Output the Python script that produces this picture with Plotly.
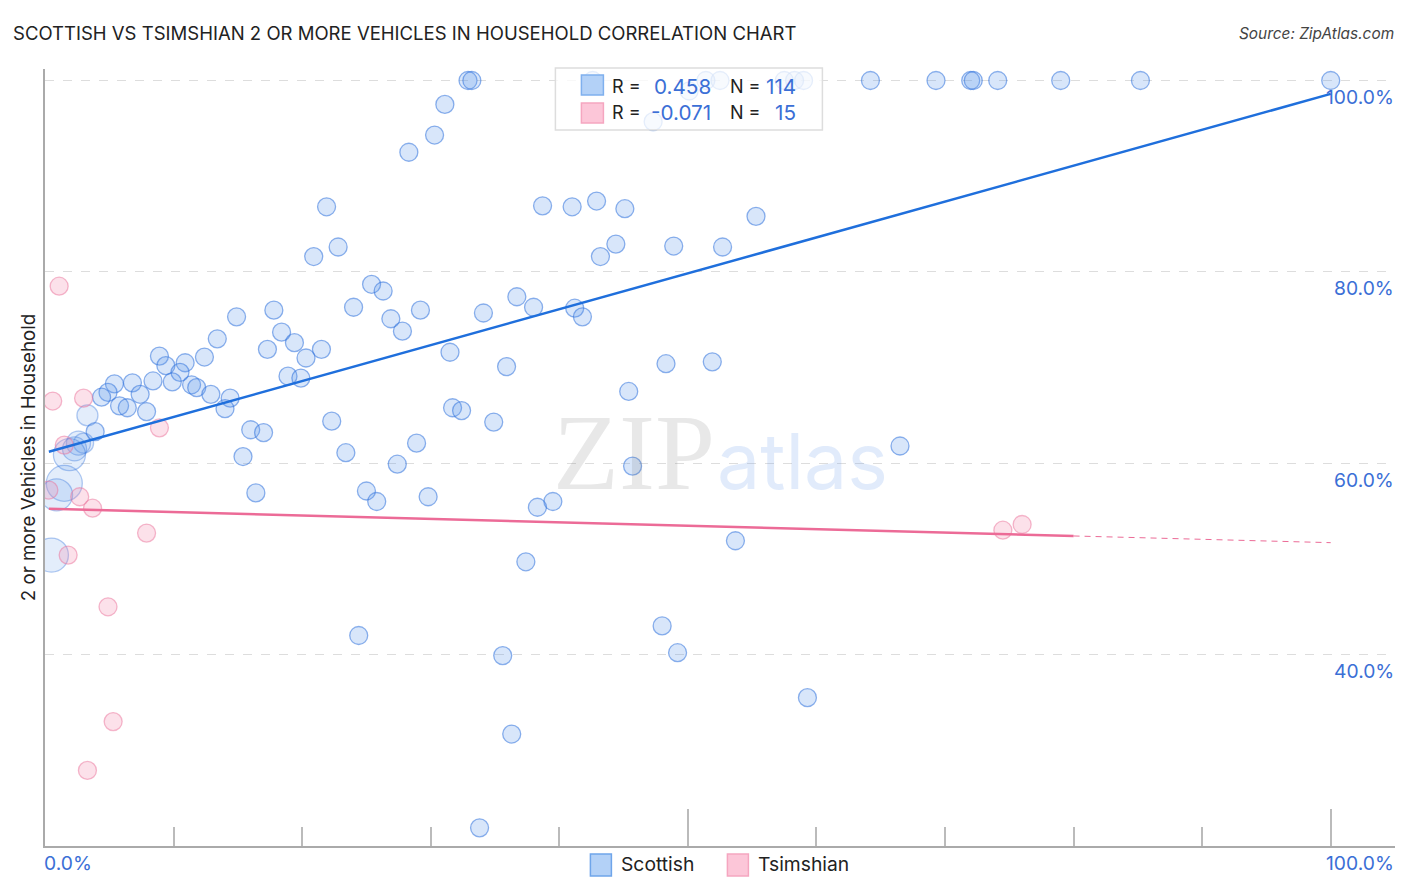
import plotly.graph_objects as go

scottish_x = [32.9,33.2,42.6,51.4,52.5,57.5,58.3,59.0,64.2,69.3,72.0,72.2,74.1,79.0,85.2,100,
50.1,47.3,31.1,30.3,28.3,21.9,38.7,41.0,42.9,45.1,55.3,44.4,48.9,52.7,43.2,22.8,20.9,25.4,26.3,36.7,
24.0,38.0,41.2,41.8,34.1,29.2,26.9,27.8,17.8,14.9,18.4,13.4,19.4,21.5,17.3,20.3,31.5,8.9,12.4,10.9,
9.4,10.5,35.9,48.3,51.9,18.9,19.9,9.9,8.4,6.8,5.4,11.4,11.8,4.9,4.4,7.4,12.9,14.4,45.4,5.8,6.4,7.9,
14.0,31.7,32.4,22.3,34.9,3.9,16.0,17.0,28.9,23.4,15.4,66.5,27.4,45.7,16.4,25.0,25.8,29.8,39.5,38.3,
53.7,37.4,24.4,48.0,35.6,49.2,59.3,36.3,33.8]
scottish_y = [100,100,100,100,100,100,100,100,100,100,100,100,100,100,100,100,
98.9,95.7,97.5,94.3,92.5,86.8,86.9,86.8,87.4,86.6,85.8,82.9,82.7,82.6,81.6,82.6,81.6,78.7,78.0,77.4,
76.3,76.3,76.2,75.3,75.7,76.0,75.1,73.8,76.0,75.3,73.7,73.0,72.6,71.9,71.9,71.0,71.6,71.2,71.1,70.5,
70.2,69.5,70.1,70.4,70.6,69.1,68.9,68.5,68.6,68.4,68.3,68.2,67.9,67.4,66.9,67.2,67.2,66.8,67.5,66.0,65.8,65.4,
65.7,65.8,65.5,64.4,64.3,63.3,63.5,63.2,62.1,61.1,60.7,61.8,59.9,59.7,56.9,57.1,56.0,56.5,56.0,55.4,
51.9,49.7,42.0,43.0,39.9,40.2,35.5,31.7,21.9]

scottish_big_x = [3.3,3.0,2.6,2.3,1.9,1.5,0.9,0.5]
scottish_big_y = [65.0,62.1,62.1,61.5,60.9,57.9,56.7,50.4]
scottish_big_weight = [21,20,24,24,32,36,32,34]

tsimshian_x = [1.5,0.3,2.7,3.7,7.9,1.8,0.6,3.0,8.9,1.1,4.9,5.3,3.3,74.5,76.0]
tsimshian_y = [61.9,57.2,56.5,55.3,52.7,50.4,66.5,66.8,63.7,78.5,45.0,33.0,27.9,53.0,53.6]

blue_fit_x = [0.3,100]
blue_fit_y = [61.2,98.6]
pink_fit_x = [0.3,80]
pink_fit_y = [55.25,52.4]
pink_ext_x = [80,100]
pink_ext_y = [52.4,51.7]

y_ticks = [40,60,80,100]
y_labels = ["40.0%","60.0%","80.0%","100.0%"]

OFF = 8  # the page keeps an 8px body margin
W, H = 1406 - 2 * OFF, 892 - 2 * OFF
L, R, T, B = 44.6, 1394.6, 69, 846  # plot frame in window pixels
TICK = "#3b6fd6"
FONT = "Inter"

def px(v): return (v - L) / (R - L)
def py(v): return 1 - (v - T) / (B - T)

fig = go.Figure()
blue_marker = dict(color="rgba(90,150,235,0.24)", line=dict(color="rgba(50,115,220,0.55)", width=1.3))
pink_marker = dict(color="rgba(245,140,175,0.26)", line=dict(color="rgba(235,115,155,0.5)", width=1.3))
fig.add_trace(go.Scatter(x=scottish_x, y=scottish_y, mode="markers", marker=dict(size=18, **blue_marker), showlegend=False))
fig.add_trace(go.Scatter(x=scottish_big_x, y=scottish_big_y, mode="markers", marker=dict(size=scottish_big_weight, **blue_marker), showlegend=False))
fig.add_trace(go.Scatter(x=tsimshian_x, y=tsimshian_y, mode="markers", marker=dict(size=18, **pink_marker), showlegend=False))
fig.add_trace(go.Scatter(x=blue_fit_x, y=blue_fit_y, mode="lines", line=dict(color="#1f6fdc", width=2.5), showlegend=False))
fig.add_trace(go.Scatter(x=pink_fit_x, y=pink_fit_y, mode="lines", line=dict(color="#ec6b97", width=2.5), showlegend=False))
fig.add_trace(go.Scatter(x=pink_ext_x, y=pink_ext_y, mode="lines", line=dict(color="#ec6b97", width=1, dash="6px,5px"), showlegend=False))

def note(x, y, text, size, color, xanchor="left", **kw):
    shift = {"left": -2, "right": 2, "center": 0}[xanchor]
    fig.add_annotation(xref="paper", yref="paper", x=px(x), y=py(y), text=text, showarrow=False, xshift=shift,
                       xanchor=xanchor, yanchor="middle", font=dict(size=size, color=color, family=kw.pop("family", FONT)), **kw)

# watermark
note(634, 452, "ZIP", 108, "rgba(120,120,120,0.17)", xanchor="center", family="Liberation Serif")
note(802.5, 461, "atlas", 77, "rgba(120,165,235,0.22)", xanchor="center")

# y tick labels placed under their grid lines
for v, s in zip(y_ticks, y_labels):
    note(1394, 79.5 + (100 - v) * 9.575 + 17, s, 19.3, TICK, xanchor="right")
note(44, 862.5, "0.0%", 19.3, TICK)
note(1394, 862.5, "100.0%", 19.3, TICK, xanchor="right")

shapes = [
    dict(type="rect", xref="paper", yref="paper", x0=px(555), x1=px(822), y0=py(130), y1=py(68),
         fillcolor="rgba(255,255,255,0.78)", line=dict(color="#dddddd", width=1.5), layer="above"),
]
for x0, y0, x1, y1, f, c in [(581,75,603,95,"#b3d1f7","#7fb0ee"),(581,103,603,123,"#fcc6d8","#f5a6c0"),
                             (590,854,611,876,"#b3d1f7","#6fa5ea"),(727,854,748,876,"#fcc6d8","#f5a6c0")]:
    shapes.append(dict(type="rect", xref="paper", yref="paper", x0=px(x0), x1=px(x1), y0=py(y1), y1=py(y0),
                       fillcolor=f, line=dict(color=c, width=1.5), layer="above"))

note(612, 86, "R =", 18, "#222222")
note(612, 113, "R =", 18, "#222222")
note(711, 86, "0.458", 20.7, TICK, xanchor="right")
note(711, 113, "-0.071", 20.7, TICK, xanchor="right")
note(730, 86, "N =", 18, "#222222")
note(730, 113, "N =", 18, "#222222")
note(796, 86, "114", 20.7, TICK, xanchor="right")
note(796, 113, "15", 20.7, TICK, xanchor="right")
note(621, 864, "Scottish", 19.3, "#222222")
note(758, 864, "Tsimshian", 19.3, "#222222")
note(1394, 33, "<i>Source: ZipAtlas.com</i>", 15.4, "#444444", xanchor="right")

fig.update_layout(
    width=W, height=H, autosize=False, paper_bgcolor="white", plot_bgcolor="white",
    margin=dict(l=L - OFF, r=W - (R - OFF), t=T - OFF, b=H - (B - OFF), pad=0),
    font=dict(family=FONT),
    title=dict(text="SCOTTISH VS TSIMSHIAN 2 OR MORE VEHICLES IN HOUSEHOLD CORRELATION CHART",
               x=(13 - OFF) / W, xanchor="left", y=1 - (34 - OFF) / H, yanchor="middle", font=dict(size=18.55, color="#222222", family=FONT)),
    shapes=shapes,
    xaxis=dict(range=[0, 105], showgrid=False, zeroline=False, showline=True, linecolor="#aaaaaa", linewidth=1.5,
               tickmode="array", tickvals=[0, 50, 100], ticktext=["", "", ""], ticks="inside", ticklen=37,
               tickcolor="#bbbbbb", tickwidth=1.5,
               minor=dict(dtick=10, tick0=0, ticks="inside", ticklen=19, tickcolor="#bbbbbb", tickwidth=1.5)),
    yaxis=dict(range=[20, 101.2], zeroline=False, showline=True, linecolor="#aaaaaa", linewidth=1.5,
               tickmode="array", tickvals=y_ticks, ticktext=["", "", "", ""], ticks="",
               showgrid=True, gridcolor="#dddddd", griddash="dash", gridwidth=1,
               title=dict(text="2 or more Vehicles in Household", font=dict(size=18.8, color="#222222", family=FONT), standoff=0)),
)
fig.write_html("out.html")
